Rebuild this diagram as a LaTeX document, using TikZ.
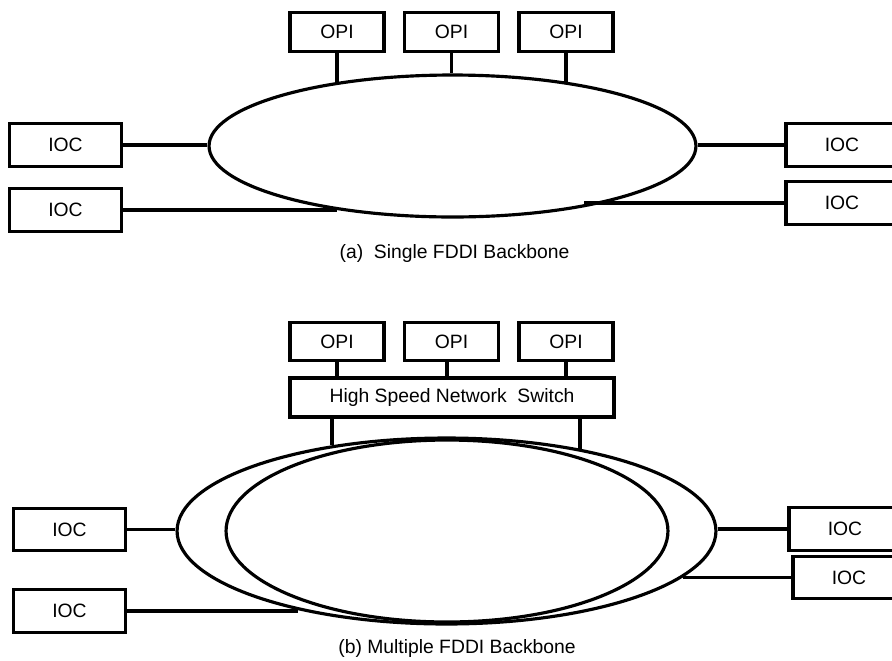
\documentclass[tikz,border=0pt]{standalone}
\usepackage{fontspec}
\setmainfont{Liberation Sans}
\usetikzlibrary{shapes.geometric}

\begin{document}
\begin{tikzpicture}[x=0.02cm, y=-0.02cm,
      unit/.style={draw, line width=1.8pt, inner sep=0pt, font=\fontsize{11}{13}\selectfont},
      opi/.style={unit, minimum width=1.88cm, minimum height=0.77cm},
      ioc/.style={unit, minimum width=2.24cm, minimum height=0.85cm},
      ring/.style={ellipse, draw, line width=1.8pt, inner sep=0pt},
      link/.style={line width=1.8pt},
      caption/.style={font=\fontsize{11}{13}\selectfont}]
      \clip (0, 0) rectangle (892, 660);

      % single ring
      \node[ring, minimum width=9.74cm, minimum height=2.84cm] (fddi) at (452.5, 146) {};
      \node[opi] (opiA) at (337, 32) {OPI};
      \node[opi] (opiB) at (451.5, 32) {OPI};
      \node[opi] (opiC) at (566, 32) {OPI};
      \node[ioc] (iocA) at (65.5, 145) {IOC};
      \node[ioc] (iocB) at (65.5, 210) {IOC};
      \node[ioc] (iocC) at (842, 145) {IOC};
      \node[ioc] (iocD) at (842, 203) {IOC};
      \draw[link] (opiA.south) -- (opiA.south |- fddi.151.3);
      \draw[link] (opiB.south) -- (opiB.south |- fddi.north);
      \draw[link] (opiC.south) -- (opiC.south |- fddi.29.8);
      \draw[link] (iocA.east) -- (iocA.east -| fddi.west);
      \draw[link] (iocB.east) -- (iocB.east -| fddi.209.3);
      \draw[link] (iocC.west) -- (iocC.west -| fddi.east);
      \draw[link] (iocD.west) -- (iocD.west -| fddi.335.3);
      \node[caption] (capA) at (454.5, 253) {(a)\ \ Single FDDI Backbone};

      % dual ring behind the switch
      \node[ring, minimum width=10.78cm, minimum height=3.72cm] (outer) at (446.5, 531) {};
      \node[ring, minimum width=8.84cm, minimum height=3.64cm] (inner) at (447, 531) {};
      \node[opi] (opiD) at (337, 341.5) {OPI};
      \node[opi] (opiE) at (451.5, 341.5) {OPI};
      \node[opi] (opiF) at (566, 341.5) {OPI};
      \node[unit, minimum width=6.48cm, minimum height=0.78cm] (switch) at (452, 397.5)
      {High Speed Network\ \ Switch};
      \draw[link] (opiD.south) -- (opiD.south |- switch.north);
      \draw[link] ([xshift=-0.09cm]opiE.south) -- ([xshift=-0.09cm]opiE.south |- switch.north);
      \draw[link] (opiF.south) -- (opiF.south |- switch.north);
      \draw[link] ([xshift=-2.4cm]switch.south) -- ([xshift=-2.4cm]switch.south |- outer.143.7);
      \draw[link] ([xshift=2.56cm]switch.south) -- ([xshift=2.56cm]switch.south |- outer.31.2);
      \node[ioc] (iocE) at (69.5, 529.5) {IOC};
      \node[ioc] (iocF) at (69.5, 611) {IOC};
      \node[ioc] (iocG) at (845, 529) {IOC};
      \node[ioc] (iocH) at (849, 577.5) {IOC};
      \draw[link] (iocE.east) -- (iocE.east -| outer.west);
      \draw[link] (iocF.east) -- (iocF.east -| outer.208.5);
      \draw[link] (iocG.west) -- (iocG.west -| outer.east);
      \draw[link] (iocH.west) -- (iocH.west -| outer.349.1);
      \node[caption] (capB) at (457, 648) {(b) Multiple FDDI Backbone};
    \end{tikzpicture}
\end{document}
